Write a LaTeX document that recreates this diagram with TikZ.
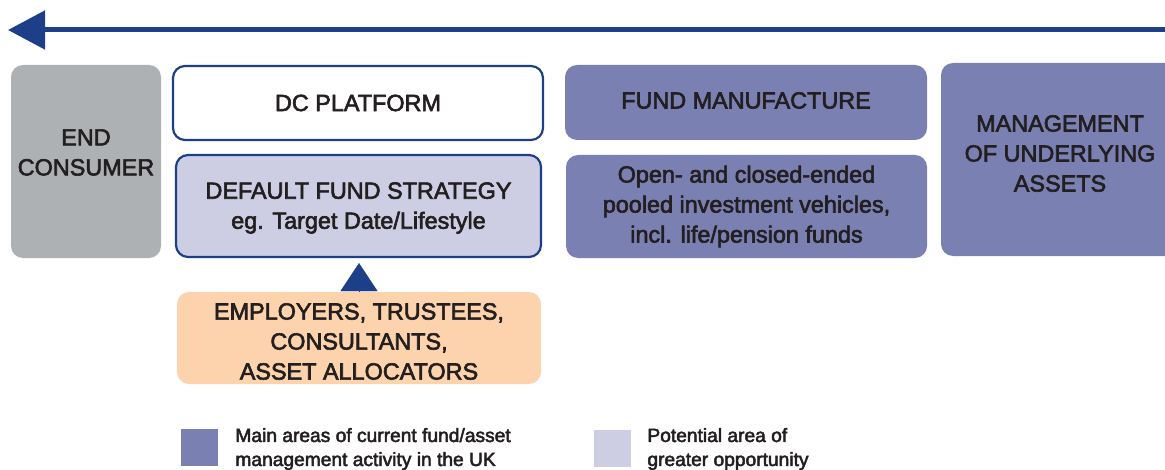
\documentclass[tikz,border=0pt]{standalone}
\usepackage{fontspec}
\setmainfont{Liberation Sans}[BoldFont={Liberation Sans},BoldFeatures={FakeBold=2.6}]
\usetikzlibrary{positioning,arrows.meta}
\definecolor{flowblue}{HTML}{1D3F87}
\definecolor{consgray}{HTML}{AEB1B4}
\definecolor{mainpurple}{HTML}{7B80B2}
\definecolor{lavender}{HTML}{CDCEE3}
\definecolor{peach}{HTML}{FCD3AC}
\definecolor{ink}{HTML}{231F20}
\tikzset{
  box/.style={rectangle,rounded corners=6pt,inner sep=0pt},
  boxtext/.style={align=center,text=ink,inner sep=0pt,
    font=\fontsize{11.7}{15}\selectfont\bfseries},
  blueline/.style={draw=flowblue,line width=1.1pt},
  legsq/.style={rectangle,minimum size=18.5pt,inner sep=0pt},
  legtext/.style={align=left,text=ink,anchor=west,inner sep=0pt,
    font=\fontsize{9.6}{12}\selectfont\bfseries}
}
\begin{document}
\begin{tikzpicture}[x=0.5pt,y=-0.5pt]
  \clip (0,0) rectangle (1165,470);
  % flow arrow
  \coordinate (flowR) at (1170,30);
  \coordinate (flowL) at (8,30);
  \draw[flowblue,line width=2.5pt,-{Triangle[length=18.5pt,width=19pt]}] (flowR) -- (flowL);
  % value chain boxes
  \node[box,fill=consgray,minimum width=75pt,minimum height=96.5pt] (endc) at (86,161.5) {};
  \node[boxtext] (endctxt) at ([yshift=4.5pt]endc.center) {END\\CONSUMER};
  \node[box,blueline,fill=white,minimum width=185pt,minimum height=37pt] (dcplat) at (358,103) {};
  \node[boxtext] (dcplattxt) at (dcplat.center) {DC PLATFORM};
  \node[box,blueline,fill=lavender,minimum width=182.5pt,minimum height=51pt] (dfs) at (358.5,206) {};
  \node[boxtext] (dfstxt) at ([yshift=-1pt]dfs.center) {DEFAULT FUND STRATEGY\\eg. Target Date/Lifestyle};
  \node[box,fill=mainpurple,minimum width=181pt,minimum height=37.5pt] (fundman) at (746,102.5) {};
  \node[boxtext] (fundmantxt) at ([yshift=1pt]fundman.center) {FUND MANUFACTURE};
  \node[box,fill=mainpurple,minimum width=180.5pt,minimum height=51.5pt] (pooled) at (746.5,206.5) {};
  \node[boxtext] (pooledtxt) at (pooled.center) {Open- and closed-ended\\pooled investment vehicles,\\incl. life/pension funds};
  \node[box,fill=mainpurple,minimum width=119pt,minimum height=96.5pt] (mgmt) at (1060,159.5) {};
  \node[boxtext] (mgmttxt) at ([yshift=3pt]mgmt.center) {MANAGEMENT\\OF UNDERLYING\\ASSETS};
  \node[box,fill=peach,minimum width=182pt,minimum height=46pt] (employ) at (359,338) {};
  \node[boxtext] (employtxt) at ([yshift=-1.75pt]employ.center) {EMPLOYERS, TRUSTEES,\\CONSULTANTS,\\ASSET ALLOCATORS};
  \draw[flowblue,line width=0.1pt,shorten >=2.5pt,-{Triangle[length=14pt,width=18.5pt]}] (employ.north) -- (employ.north |- dfs.south);
  % legend
  \node[legsq,fill=mainpurple] (leg1) at (199.5,447.5) {};
  \node[legtext] (leg1txt) at (235,449) {Main areas of current fund/asset\\management activity in the UK};
  \node[legsq,fill=lavender] (leg2) at (612,448) {};
  \node[legtext] (leg2txt) at (647,449) {Potential area of\\greater opportunity};
\end{tikzpicture}
\end{document}
